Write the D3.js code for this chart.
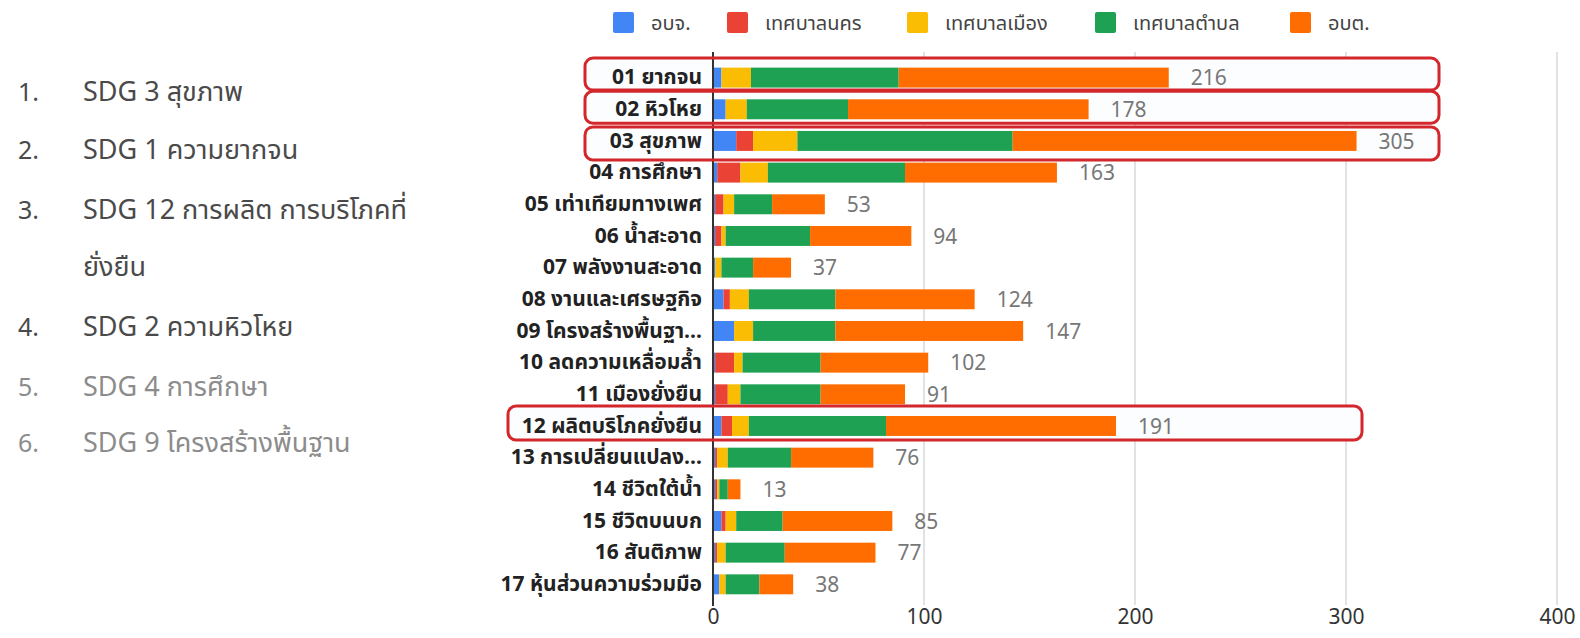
<!DOCTYPE html>
<html><head><meta charset="utf-8">
<script src="https://cdn.jsdelivr.net/npm/d3@7/dist/d3.min.js"></script>
<style>
html,body{margin:0;padding:0;background:#fff;}
svg{display:block;font-family:"Noto Sans Thai","Noto Sans","Open Sans",sans-serif;}
</style></head>
<body><svg id="c" width="1580" height="638"></svg>
<script>
const categories = ["01 ยากจน","02 หิวโหย","03 สุขภาพ","04 การศึกษา","05 เท่าเทียมทางเพศ","06 น้ำสะอาด","07 พลังงานสะอาด","08 งานและเศรษฐกิจ","09 โครงสร้างพื้นฐา…","10 ลดความเหลื่อมล้ำ","11 เมืองยั่งยืน","12 ผลิตบริโภคยั่งยืน","13 การเปลี่ยนแปลง…","14 ชีวิตใต้น้ำ","15 ชีวิตบนบก","16 สันติภาพ","17 หุ้นส่วนความร่วมมือ"];
const seriesNames = ["อบจ.","เทศบาลนคร","เทศบาลเมือง","เทศบาลตำบล","อบต."];
const pao   = [4,6,11,2,1,1,1,5,10,1,1,4,1,1,4,1,3];
const city  = [0,0,8,11,4,3,0,3,0,9,6,5,1,1,2,1,0];
const town  = [14,10,21,13,5,2,3,9,9,4,6,8,5,1,5,4,3];
const subd  = [70,48,102,65,18,40,15,41,39,37,38,65,30,4,22,28,16];
const tao   = [128,114,163,72,25,48,18,66,89,51,40,109,39,6,52,43,16];
const xTicks = [0,100,200,300,400];
const rankList = ["SDG 3 สุขภาพ","SDG 1 ความยากจน","SDG 12 การผลิต การบริโภคที่|ยั่งยืน","SDG 2 ความหิวโหย","SDG 4 การศึกษา","SDG 9 โครงสร้างพื้นฐาน"];
const highlighted = ["01 ยากจน","02 หิวโหย","03 สุขภาพ","12 ผลิตบริโภคยั่งยืน"];

const colors = ["#4285F4","#EA4335","#FBBC04","#1FA154","#FF6D01"];
const seriesArr = [pao, city, town, subd, tao];
const rows = categories.map((c,i)=>{const o={cat:c}; seriesNames.forEach((s,k)=>o[s]=seriesArr[k][i]); return o;});
const stack = d3.stack().keys(seriesNames)(rows);

const svg = d3.select("#c");
const x = d3.scaleLinear().domain([0,400]).range([713,1557]);
const y = d3.scaleBand().domain(categories).range([61.77,600.16]).paddingInner(0.37).paddingOuter(0.185);

// gridlines
svg.append("g").selectAll("line").data(xTicks.filter(d=>d>0)).join("line")
  .attr("x1",d=>x(d)).attr("x2",d=>x(d)).attr("y1",52).attr("y2",605)
  .attr("stroke","#d9d9d9").attr("stroke-width",1.5);

// highlight boxes (behind bars)
const boxes = [
  {cat:"01 ยากจน", x0:585, x1:1439, t:-19.5, b:12.5},
  {cat:"02 หิวโหย", x0:585, x1:1439, t:-18, b:14},
  {cat:"03 สุขภาพ", x0:585, x1:1439, t:-14, b:19},
  {cat:"12 ผลิตบริโภคยั่งยืน", x0:508, x1:1362, t:-20, b:14}
];
const bg = svg.append("g");
boxes.forEach(bx=>{
  const c = y(bx.cat)+y.bandwidth()/2;
  bg.append("rect").attr("x",bx.x0).attr("y",c+bx.t).attr("width",bx.x1-bx.x0).attr("height",bx.b-bx.t)
    .attr("rx",8).attr("fill","#fbfdfe").attr("stroke","none");
});

// bars
svg.append("g").selectAll("g").data(stack).join("g").attr("fill",(d,i)=>colors[i])
  .selectAll("rect").data(d=>d).join("rect")
  .attr("x",d=>x(d[0])).attr("width",d=>Math.max(0,x(d[1])-x(d[0])))
  .attr("y",d=>y(d.data.cat)).attr("height",y.bandwidth());

// zero axis line
svg.append("line").attr("x1",x(0)).attr("x2",x(0)).attr("y1",52).attr("y2",606)
  .attr("stroke","#333").attr("stroke-width",2);

// total labels
svg.append("g").selectAll("text").data(rows).join("text")
  .attr("x",d=>x(d3.sum(seriesNames,s=>d[s]))+22)
  .attr("y",d=>y(d.cat)+y.bandwidth()/2).attr("dy","0.36em")
  .attr("fill","#777").attr("font-size",21)
  .text(d=>d3.sum(seriesNames,s=>d[s]));

// category labels
const yAxis = d3.axisLeft(y).tickSize(0).tickPadding(11);
const ga = svg.append("g").attr("transform",`translate(${x(0)},0)`).call(yAxis);
ga.select(".domain").remove();
ga.selectAll("text").attr("font-size",21).attr("font-weight","bold").attr("fill","#222")
  .attr("font-family",'"Noto Sans Thai","Noto Sans",sans-serif');

// x axis
const xAxis = d3.axisBottom(x).tickValues(xTicks).tickSize(0).tickPadding(0);
const gx = svg.append("g").attr("transform","translate(0,609)").call(xAxis);
gx.select(".domain").remove();
gx.selectAll("text").attr("font-size",21).attr("fill","#333").attr("dy","0.71em")
  .attr("font-family",'"Noto Sans","Open Sans",sans-serif');

// highlight box strokes
boxes.forEach(bx=>{
  const c = y(bx.cat)+y.bandwidth()/2;
  svg.append("rect").attr("x",bx.x0).attr("y",c+bx.t).attr("width",bx.x1-bx.x0).attr("height",bx.b-bx.t)
    .attr("rx",8).attr("fill","none").attr("stroke","#D3272C").attr("stroke-width",3);
});

// legend
const legX = [613,727,907,1095,1290];
const lg = svg.append("g");
seriesNames.forEach((s,i)=>{
  lg.append("rect").attr("x",legX[i]).attr("y",12).attr("width",21).attr("height",21).attr("rx",2).attr("fill",colors[i]);
  lg.append("text").attr("x",legX[i]+38).attr("y",23).attr("dy","0.35em").attr("font-size",20).attr("fill","#444").text(s);
});

// ranking list
const listY = [92,150,210,327,387,443];
const lt = svg.append("g");
rankList.forEach((t,i)=>{
  const col = i<4 ? "#4a4a4a" : "#8c8c8c";
  lt.append("text").attr("x",18).attr("y",listY[i]).attr("dy","0.35em").attr("font-size",25).attr("fill",col).text((i+1)+".");
  const parts = t.split("|");
  parts.forEach((p,j)=>{
    lt.append("text").attr("x",83).attr("y",listY[i]+j*57).attr("dy","0.35em").attr("font-size",27).attr("fill",col).text(p);
  });
});
</script></body></html>
